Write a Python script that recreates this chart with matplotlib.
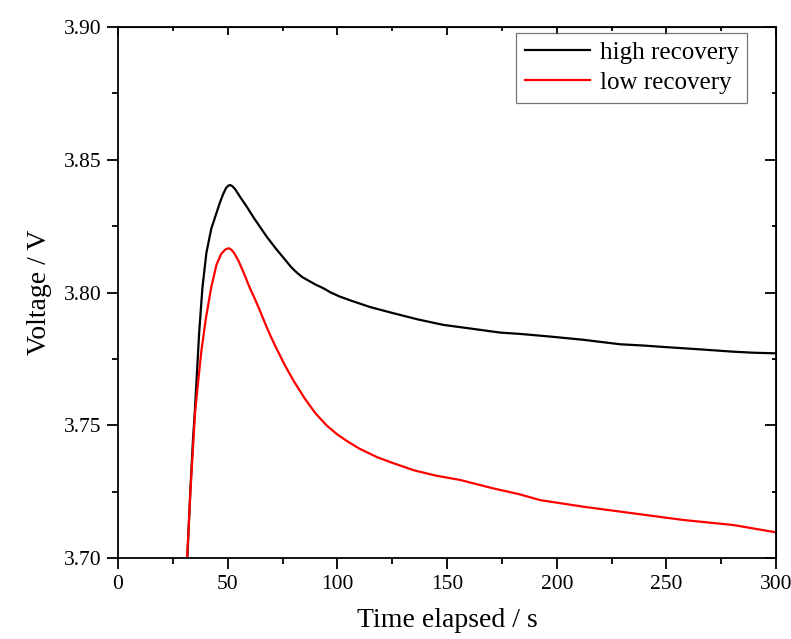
import matplotlib
matplotlib.use("Agg")
import matplotlib.pyplot as plt
from matplotlib.ticker import MultipleLocator, FormatStrFormatter

plt.rcParams['font.family'] = ['Liberation Serif', 'DejaVu Serif']

# high recovery (black)
high_t = [31.6, 33.0, 34.2, 35.0, 35.8, 37.0, 38.5, 40.3, 42.5, 44.9, 46.5, 48.0, 49.2, 50.2, 51.1,
          52.2, 53.5, 55.5, 58.7, 62.0, 67.8, 72.0, 76.0, 79.0, 81.5, 84.0, 87.0, 90.0, 93.6,
          97.0, 101.0, 106.0, 115.0, 125.5, 137.0, 148.3, 160.0, 174.2, 183.3, 197.0, 212.0,
          228.9, 240.0, 250.2, 265.0, 280.6, 290.0, 299.6]
high_v = [3.700, 3.726, 3.745, 3.755, 3.767, 3.785, 3.802, 3.815, 3.824, 3.830, 3.8340, 3.8372, 3.8393, 3.8402, 3.8405,
          3.8400, 3.8388, 3.8362, 3.8323, 3.8280, 3.8210, 3.8165, 3.8125, 3.8095, 3.8075, 3.8058, 3.8044, 3.8030, 3.8016,
          3.8000, 3.7985, 3.7970, 3.7945, 3.7922, 3.7898, 3.7878, 3.7865, 3.7849, 3.7844, 3.7834, 3.7822,
          3.7805, 3.7800, 3.7794, 3.7786, 3.7777, 3.7773, 3.7771]

# low recovery (red)
low_t = [31.5, 33.0, 35.1, 36.6, 38.0, 40.0, 42.5, 44.9, 47.0, 48.8, 50.0, 50.8, 51.8,
         53.0, 55.0, 57.5, 60.2, 62.0, 64.0, 66.0, 68.0, 70.0, 72.0, 76.0, 80.0, 85.0, 90.0, 95.0, 100.0,
         105.0, 110.0, 118.0, 125.5, 135.0, 145.0, 155.9, 171.1, 183.0, 192.4, 212.2, 235.0,
         257.8, 280.6, 299.6]
low_v = [3.700, 3.725, 3.7545, 3.767, 3.778, 3.790, 3.802, 3.8105, 3.8145, 3.8161, 3.8166, 3.8166, 3.8160,
         3.8148, 3.8118, 3.8070, 3.8015, 3.7983, 3.7945, 3.7905, 3.7865, 3.7828, 3.7793, 3.7727, 3.7668, 3.7602, 3.7545, 3.7500, 3.7465,
         3.7437, 3.7412, 3.7380, 3.7357, 3.7330, 3.7310, 3.7294, 3.7262, 3.7240, 3.7218, 3.7193, 3.7168,
         3.7143, 3.7124, 3.7097]

x_major = [0, 50, 100, 150, 200, 250, 300]
y_major = [3.70, 3.75, 3.80, 3.85, 3.90]

fig = plt.figure(figsize=(7.91, 6.39), dpi=100)
ax = fig.add_axes([0.1492, 0.1268, 0.832, 0.8309])

ax.plot(high_t, high_v, color='black', lw=1.6, label='high recovery')
ax.plot(low_t, low_v, color='#ff0000', lw=1.6, label='low recovery')

ax.set_xlim(0, 300)
ax.set_ylim(3.70, 3.90)
ax.set_xticks(x_major)
ax.set_yticks(y_major)
ax.xaxis.set_minor_locator(MultipleLocator(25))
ax.yaxis.set_minor_locator(MultipleLocator(0.025))
ax.yaxis.set_major_formatter(FormatStrFormatter('%.2f'))

for s in ax.spines.values():
    s.set_linewidth(1.3)

ax.tick_params(which='major', direction='out', length=8, width=1.3, labelsize=15.5, pad=4)
ax.tick_params(which='minor', direction='out', length=4.5, width=1.3)

sx = ax.secondary_xaxis('top')
sx.set_xticks(x_major)
sx.xaxis.set_minor_locator(MultipleLocator(25))
sx.tick_params(which='major', direction='in', length=6, width=1.3, labeltop=False)
sx.tick_params(which='minor', direction='in', length=3, width=1.3)
sy = ax.secondary_yaxis('right')
sy.set_yticks(y_major)
sy.yaxis.set_minor_locator(MultipleLocator(0.025))
sy.tick_params(which='major', direction='in', length=8, width=1.3, labelright=False)
sy.tick_params(which='minor', direction='in', length=3, width=1.3)

ax.set_xlabel('Time elapsed / s', fontsize=20, labelpad=10)
ax.set_ylabel('Voltage / V', fontsize=20, labelpad=8)

leg = ax.legend(loc='upper right', fontsize=18, frameon=True, fancybox=False,
                edgecolor='#555555', handlelength=2.6, borderpad=0.35,
                labelspacing=0.3, handletextpad=0.4, borderaxespad=0.0,
                bbox_to_anchor=(0.956, 0.989))
leg.get_frame().set_linewidth(0.9)

fig.savefig('out.png', dpi=100)
